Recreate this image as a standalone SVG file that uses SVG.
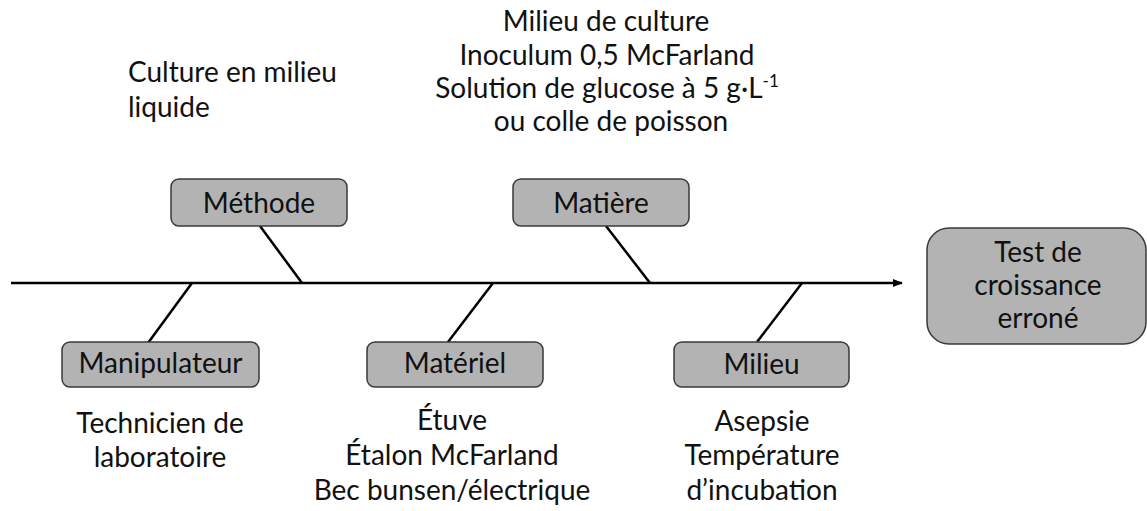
<svg xmlns="http://www.w3.org/2000/svg" width="1147" height="511" viewBox="0 0 1147 511">
<style>
text { font-family: "Lato", "Liberation Sans", sans-serif; font-size: 28px; fill: #111; }
.c { text-anchor: middle; }
.box { fill: #b3b3b3; stroke: #3a3a3a; stroke-width: 1.5; }
.bone { stroke: #000; stroke-width: 2.5; fill: none; }
</style>
<defs>
<marker id="arr" markerWidth="10" markerHeight="8" refX="9" refY="4" orient="auto" markerUnits="userSpaceOnUse">
<path d="M0,0 L10,4 L0,8 Z" fill="#000"/>
</marker>
</defs>
<rect width="1147" height="511" fill="#fff"/>
<g id="connectors">
<line class="bone" x1="11" y1="283" x2="902" y2="283" marker-end="url(#arr)"/>
<line class="bone" x1="260" y1="226" x2="302" y2="283"/>
<line class="bone" x1="606" y1="226" x2="650" y2="283"/>
<line class="bone" x1="192" y1="283" x2="148" y2="343"/>
<line class="bone" x1="493" y1="283" x2="448" y2="342"/>
<line class="bone" x1="802" y1="283" x2="757" y2="342"/>
</g>
<g id="methode">
<rect class="box" x="171" y="179" width="176" height="47" rx="8"/>
<text class="c" x="259" y="213">Méthode</text>
</g>
<g id="matiere">
<rect class="box" x="513" y="179" width="176" height="47" rx="8"/>
<text class="c" x="601" y="213">Matière</text>
</g>
<g id="manipulateur">
<rect class="box" x="62" y="342" width="197" height="45" rx="8"/>
<text class="c" x="160.5" y="373">Manipulateur</text>
</g>
<g id="materiel">
<rect class="box" x="367" y="342" width="176" height="45" rx="8"/>
<text class="c" x="455" y="373">Matériel</text>
</g>
<g id="milieu">
<rect class="box" x="674" y="342" width="175" height="45" rx="8"/>
<text class="c" x="761.5" y="374">Milieu</text>
</g>
<g id="effet">
<rect class="box" x="927" y="228" width="219" height="116" rx="22"/>
<text class="c" x="1038" y="262">Test de</text>
<text class="c" x="1038" y="295">croissance</text>
<text class="c" x="1038" y="328">erroné</text>
</g>
<g id="methode-causes">
<text x="128" y="82">Culture en milieu</text>
<text x="128" y="117">liquide</text>
</g>
<g id="matiere-causes">
<text class="c" x="606" y="31">Milieu de culture</text>
<text class="c" x="607" y="65">Inoculum 0,5 McFarland</text>
<text class="c" x="607" y="98">Solution de glucose à 5 g·L<tspan font-size="17" dy="-11">-1</tspan></text>
<text class="c" x="611" y="131">ou colle de poisson</text>
</g>
<g id="manipulateur-causes">
<text class="c" x="160" y="433">Technicien de</text>
<text class="c" x="160" y="467">laboratoire</text>
</g>
<g id="materiel-causes">
<text class="c" x="452" y="430">Étuve</text>
<text class="c" x="452" y="465">Étalon McFarland</text>
<text class="c" x="452" y="500">Bec bunsen/électrique</text>
</g>
<g id="milieu-causes">
<text class="c" x="762" y="431">Asepsie</text>
<text class="c" x="762" y="465">Température</text>
<text class="c" x="762" y="500">d’incubation</text>
</g>
</svg>
